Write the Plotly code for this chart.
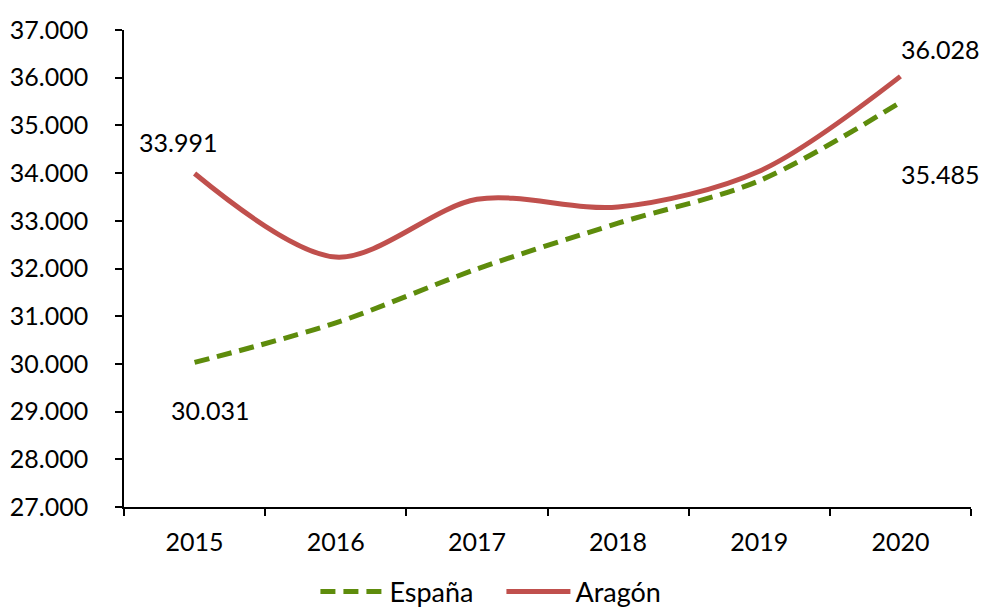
import plotly.graph_objects as go

years = ["2015", "2016", "2017", "2018", "2019", "2020"]
espana = [30031, 30860, 31990, 32950, 33840, 35485]
aragon = [33991, 32240, 33450, 33290, 34040, 36028]
y_ticks = [27000, 28000, 29000, 30000, 31000, 32000, 33000, 34000, 35000, 36000, 37000]

FONT = "Lato"
GREEN = "#5E8C0C"
RED = "#C0504D"

fig = go.Figure()
fig.add_trace(go.Scatter(
    x=years, y=espana, name="España", mode="lines",
    line=dict(color=GREEN, width=5, dash="15px,8px", shape="spline", smoothing=0.9),
))
fig.add_trace(go.Scatter(
    x=years, y=aragon, name="Aragón", mode="lines",
    line=dict(color=RED, width=5, shape="spline", smoothing=0.9),
))

def fmt(v):
    return f"{v:,}".replace(",", ".")

first, last = 0, len(years) - 1
labels = [
    (first, aragon[first], -17, 32),
    (last, aragon[last], 40, 27),
    (first, espana[first], 15, -48),
    (last, espana[last], 40, -72),
]
for x, y, dx, dy in labels:
    fig.add_annotation(x=x, y=y, xref="x", yref="y", text=fmt(y), showarrow=False,
                       xshift=dx, yshift=dy,
                       font=dict(family=FONT, size=25, color="#000000"))

fig.update_layout(
    width=987, height=608,
    margin=dict(l=124, r=16, t=30, b=101, autoexpand=False),
    paper_bgcolor="white", plot_bgcolor="white",
    separators=",.",
    font=dict(family=FONT, size=25, color="#000000"),
    showlegend=True,
    legend=dict(orientation="h", x=0.226, xanchor="left", y=-0.178, yanchor="middle",
                font=dict(family=FONT, size=27), bgcolor="rgba(0,0,0,0)",
                itemwidth=64, entrywidth=107),
    xaxis=dict(
        type="category", range=[-0.5, 5.5],
        showline=True, linecolor="#000000", linewidth=1.5,
        ticks="outside", tickson="boundaries", ticklen=7, tickcolor="#000000", tickwidth=1.5,
        showgrid=False, zeroline=False, ticklabelstandoff=12, automargin=False,
    ),
    yaxis=dict(
        range=[27000, 37000], tickvals=y_ticks, tickformat=",d",
        showline=True, linecolor="#000000", linewidth=1.5,
        ticks="outside", ticklen=7, tickcolor="#000000", tickwidth=1.5,
        showgrid=False, zeroline=False, ticklabelstandoff=22, automargin=False,
    ),
)

fig.write_html("out.html", config={"displayModeBar": False},
               post_script="document.body.style.margin='0px';document.body.style.overflow='hidden';")
